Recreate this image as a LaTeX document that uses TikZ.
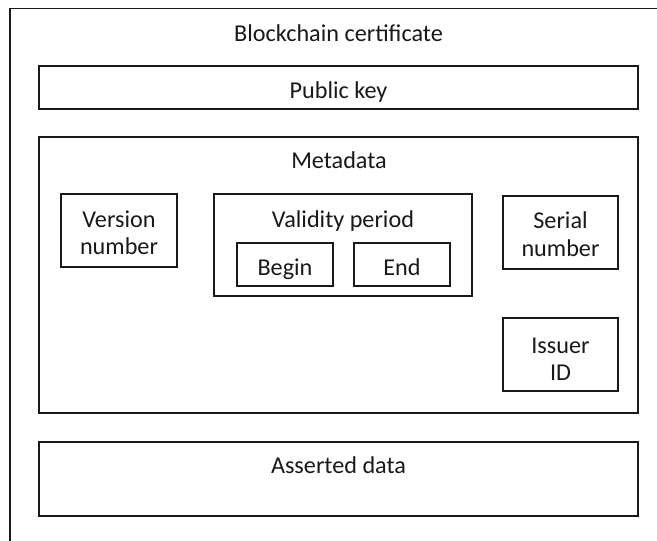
\documentclass[tikz,border=0pt]{standalone}
\usepackage{fontspec}
\setmainfont{Carlito}
\usetikzlibrary{fit}
\begin{document}
\begin{tikzpicture}[x=1pt,y=-1pt,
  box/.style={draw=black!90, line width=1.2pt, inner sep=0pt, outer sep=0pt},
  txt/.style={anchor=base, inner sep=0pt, text=black!90, font=\fontsize{24.2}{29}\selectfont}]
\useasboundingbox (0,0) rectangle (657,541);
\clip (0,0) rectangle (657,541);
\fill[white] (0,0) rectangle (657,541);
% outer box (extends beyond the picture)
\node[box, fit={(10,8.5) (720,620)}] (outer) {};
\node[box, fit={(39,66) (638,109)}] (pub) {};
\node[box, fit={(39,137) (638,413)}] (meta) {};
\node[box, fit={(39,442) (638,516)}] (asserted) {};
\node[box, fit={(61,194) (177,267)}] (version) {};
\node[box, fit={(214,194) (472,296)}] (validity) {};
\node[box, fit={(237,243) (333,286)}] (begin) {};
\node[box, fit={(354,243) (450,286)}] (end) {};
\node[box, fit={(503,196) (618,269)}] (serial) {};
\node[box, fit={(503,318) (618,391)}] (issuer) {};
% texts
\node[txt] (tTitle) at (338.5,41) {Blockchain certificate};
\node[txt] (tPub) at (338.5,98) {Public key};
\node[txt] (tMeta) at (339,168) {Metadata};
\node[txt] (tValid) at (343,227) {Validity period};
\node[txt] (tBegin) at (285,275) {Begin};
\node[txt] (tEnd) at (402,275) {End};
\node[txt] (tVer1) at (119,227) {Version};
\node[txt] (tVer2) at (119,254) {number};
\node[txt] (tSer1) at (560.5,228) {Serial};
\node[txt] (tSer2) at (560.5,256) {number};
\node[txt] (tIss1) at (560.5,353) {Issuer};
\node[txt] (tIss2) at (560.5,380) {ID};
\node[txt] (tAss) at (338.5,473) {Asserted data};
\end{tikzpicture}
\end{document}
